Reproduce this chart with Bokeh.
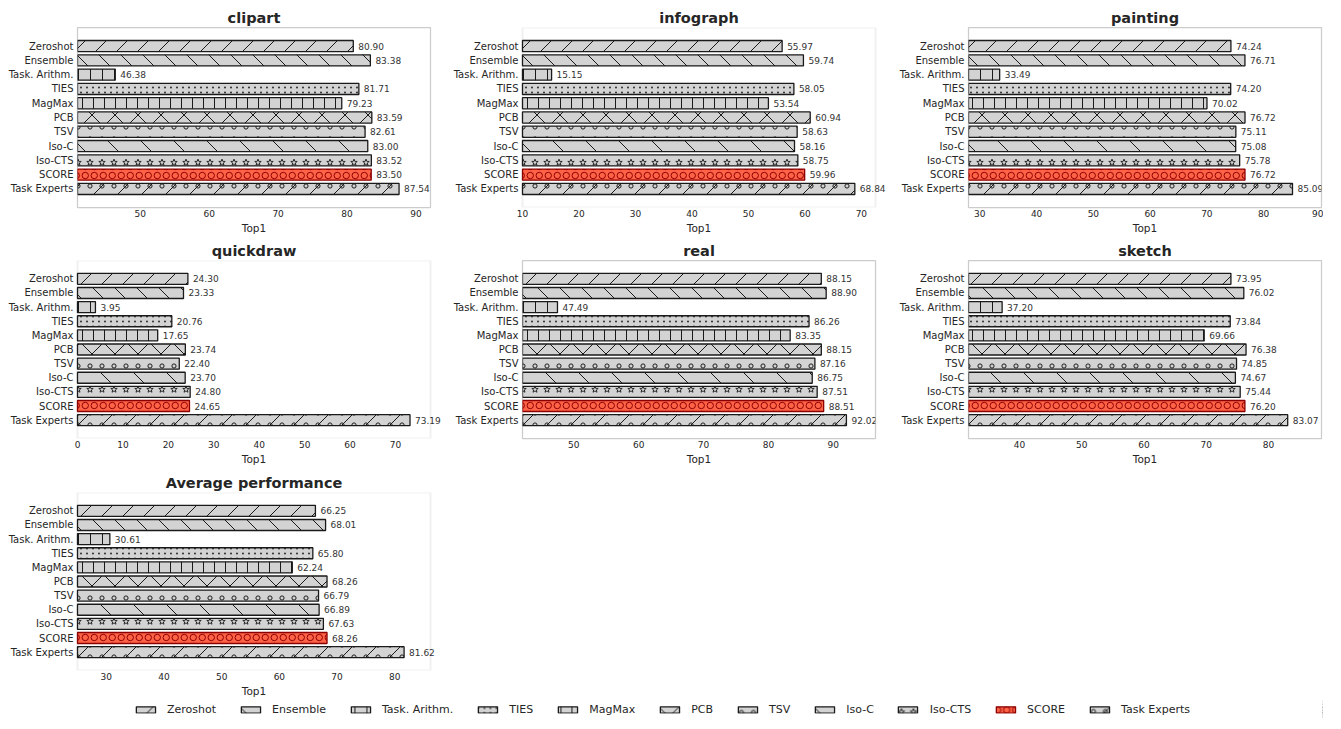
import base64
import math
from bokeh.plotting import figure
from bokeh.models import (ColumnDataSource, FactorRange, Range1d, FixedTicker, Legend,
                          LegendItem, Label, ImageURLTexture, BoxAnnotation)
from bokeh.layouts import column, row
from bokeh.embed import file_html
from bokeh.resources import INLINE

# ---------------- data ----------------
methods = ["Zeroshot", "Ensemble", "Task. Arithm.", "TIES", "MagMax", "PCB",
           "TSV", "Iso-C", "Iso-CTS", "SCORE", "Task Experts"]
clipart = [80.90, 83.38, 46.38, 81.71, 79.23, 83.59, 82.61, 83.00, 83.52, 83.50, 87.54]
infograph = [55.97, 59.74, 15.15, 58.05, 53.54, 60.94, 58.63, 58.16, 58.75, 59.96, 68.84]
painting = [74.24, 76.71, 33.49, 74.20, 70.02, 76.72, 75.11, 75.08, 75.78, 76.72, 85.09]
quickdraw = [24.30, 23.33, 3.95, 20.76, 17.65, 23.74, 22.40, 23.70, 24.80, 24.65, 73.19]
real = [88.15, 88.90, 47.49, 86.26, 83.35, 88.15, 87.16, 86.75, 87.51, 88.51, 92.02]
sketch = [73.95, 76.02, 37.20, 73.84, 69.66, 76.38, 74.85, 74.67, 75.44, 76.20, 83.07]
average = [66.25, 68.01, 30.61, 65.80, 62.24, 68.26, 66.79, 66.89, 67.63, 68.26, 81.62]

panel_titles = ["clipart", "infograph", "painting", "quickdraw", "real", "sketch", "Average performance"]
panel_values = [clipart, infograph, painting, quickdraw, real, sketch, average]
x_label = "Top1"
tick_values = [0, 10, 20, 30, 40, 50, 60, 70, 80, 90, 100]

# ---------------- styles ----------------
FONT = "DejaVu Sans"
TXT = "#262626"
GRAY = "#d3d3d3"
INK = "#1a1a1a"
RED_INK = "#8b0000"
x_ranges = [(40.9, 92.1), (10, 72.5), (28, 90.2), (0, 77.7), (42.1, 96.5), (31.8, 88.5), (25, 86.2)]


def tile(w, h, body):
    svg = (f'<svg xmlns="http://www.w3.org/2000/svg" width="{w}" height="{h}" '
           f'viewBox="0 0 {w} {h}">{body}</svg>')
    return "data:image/svg+xml;base64," + base64.b64encode(svg.encode()).decode()


def stroke(d, col=INK, sw=1.0):
    return f'<path d="{d}" stroke="{col}" stroke-width="{sw}" fill="none"/>'


def right_diag(n):
    return "".join(f"M{c + 1} -1 L{c - n - 1} {n + 1} " for c in (0, n, 2 * n))


def left_diag(n):
    return "".join(f"M-1 {c - 1} L{n + 1} {c + n + 1} " for c in (-n, 0, n))


def ring(cx, cy, r, col=INK, sw=1.0):
    return f'<circle cx="{cx}" cy="{cy}" r="{r}" stroke="{col}" stroke-width="{sw}" fill="none"/>'


def star(cx, cy, ro, ri):
    pts = []
    for k in range(10):
        a = -math.pi / 2 + k * math.pi / 5
        r = ro if k % 2 == 0 else ri
        pts.append(f"{cx + r * math.cos(a):.2f},{cy + r * math.sin(a):.2f}")
    return f'<polygon points="{" ".join(pts)}" stroke="{INK}" stroke-width="0.9" fill="none"/>'


textures = {
    "zs": tile(21, 21, stroke(right_diag(21))),
    "en": tile(22, 22, stroke(left_diag(22))),
    "ta": tile(12, 12, stroke("M6.5 0 L6.5 12")),
    "ti": tile(6, 5, f'<circle cx="3" cy="2.5" r="0.9" fill="{INK}"/>'),
    "mm": tile(11, 11, stroke("M5.5 0 L5.5 11")),
    "pc": tile(23, 23, stroke(right_diag(23) + left_diag(23))),
    "ts": tile(12, 12, ring(6, 7, 2.1)),
    "ic": tile(33, 33, stroke(left_diag(33))),
    "ct": tile(12, 12, star(6, 6.5, 3.4, 1.4)),
    "sc": tile(8.5, 9, ring(4.25, 4.5, 3.2, RED_INK)),
    "te": tile(24, 24, stroke("M25 -1 L-1 25 M1 -1 L-1 1 M49 -1 L23 25") +
               ring(6, 6, 2.1) + ring(18, 6, 2.1) + ring(6, 18, 2.1) + ring(18, 18, 2.1)),
}
hatch_keys = ["zs", "en", "ta", "ti", "mm", "pc", "ts", "ic", "ct", "sc", "te"]
hatch_extra = {k: ImageURLTexture(url=u) for k, u in textures.items()}
fills = [GRAY] * 9 + ["#ff6347", GRAY]
edges = [INK] * 9 + [RED_INK, INK]

FRAME_W, FRAME_H = 353, 180
factors_bottom_up = methods[::-1]


def draw_bars(p, vals, base):
    groups = []
    for i, m in enumerate(methods):
        src = ColumnDataSource(dict(y=[m], v=[vals[i]], pat=[hatch_keys[i]]))
        r = p.hbar(y="y", left=base, right="v", height=0.78, source=src,
                   fill_color=fills[i], line_color=edges[i], line_width=1.3,
                   hatch_pattern="pat", hatch_extra=hatch_extra)
        groups.append([r])
    return groups


def make_panel(k, left_b, right_b, top_b, bottom_b, ext_px):
    # ext_px > 0: invisible extra room left and right of the visible box so that
    # value labels next to the longest bar are not clipped by the frame
    x0, x1 = x_ranges[k]
    ppu = FRAME_W / (x1 - x0)
    ext = ext_px / ppu
    w = left_b + FRAME_W + right_b
    h = top_b + FRAME_H + bottom_b
    p = figure(width=w, height=h, y_range=FactorRange(factors=factors_bottom_up),
               x_range=Range1d(x0 - ext, x1 + ext), toolbar_location=None,
               output_backend="svg", min_border_left=left_b - ext_px,
               min_border_right=right_b - ext_px,
               min_border_top=top_b, min_border_bottom=bottom_b)
    p.y_range.range_padding = 0.8
    p.y_range.range_padding_units = "absolute"
    p.title.text = panel_titles[k]
    p.title.align = "center"
    p.title.text_font = FONT
    p.title.text_font_size = "14.5px"
    p.title.text_font_style = "bold"
    p.title.text_color = TXT
    p.title.standoff = 3
    if ext_px:
        p.outline_line_color = None
        p.add_layout(BoxAnnotation(left=x0, right=x1, fill_color=None, fill_alpha=0,
                                   line_color="#cccccc", line_width=2.0, level="underlay"))
    else:
        p.outline_line_color = "#cccccc"
        p.outline_line_width = 1.25
    p.xgrid.visible = False
    p.ygrid.visible = False
    p.xaxis.ticker = FixedTicker(ticks=[t for t in tick_values if x0 <= t <= x1])
    for ax in (p.xaxis[0], p.yaxis[0]):
        ax.axis_line_color = None
        ax.major_tick_line_color = None
        ax.minor_tick_line_color = None
        ax.major_tick_out = 0
        ax.major_tick_in = 0
        ax.minor_tick_out = 0
        ax.minor_tick_in = 0
        ax.major_label_text_font = FONT
        ax.major_label_text_color = TXT
    p.xaxis.major_label_text_font_size = "9px"
    p.xaxis.major_label_standoff = 2
    p.xaxis.axis_label = x_label
    p.xaxis.axis_label_text_font = FONT
    p.xaxis.axis_label_text_font_size = "10.5px"
    p.xaxis.axis_label_text_font_style = "normal"
    p.xaxis.axis_label_text_color = TXT
    p.xaxis.axis_label_standoff = 2
    p.yaxis.major_label_text_font_size = "10px"
    p.yaxis.major_label_standoff = 4 - ext_px
    vals = panel_values[k]
    draw_bars(p, vals, x0)
    for m, v in zip(methods, vals):
        # categorical synthetic coordinate of the factor's centre
        yc = factors_bottom_up.index(m) + 0.5
        p.add_layout(Label(x=v, y=yc, text=f"{v:.2f}", x_offset=5, level="overlay",
                           text_baseline="middle", text_align="left",
                           text_font=FONT, text_font_size="9px", text_color="#333333"))
    return p


p1 = make_panel(0, 77, 15, 27, 32, 0)
p2 = make_panel(1, 77, 15, 27, 32, 13)
p3 = make_panel(2, 78, 2, 27, 32, 0)
p4 = make_panel(3, 77, 15, 19, 33, 13)
p5 = make_panel(4, 77, 15, 19, 33, 0)
p6 = make_panel(5, 78, 2, 19, 33, 0)
p7 = make_panel(6, 77, 15, 19, 30, 13)

# legend strip
leg = figure(width=1323, height=18, x_range=Range1d(-2, -1), y_range=FactorRange(factors=methods),
             toolbar_location=None, output_backend="svg", min_border=0,
             x_axis_location=None, y_axis_location=None)
leg.outline_line_color = None
leg.xgrid.visible = False
leg.ygrid.visible = False
groups = draw_bars(leg, average, 0)
items = [LegendItem(label=m, renderers=groups[i]) for i, m in enumerate(methods)]
legend = Legend(items=items, orientation="horizontal", location="center",
                border_line_color=None, background_fill_alpha=0,
                label_text_font=FONT, label_text_font_size="11px", label_text_color=TXT,
                glyph_width=24, glyph_height=8, label_standoff=10, spacing=22,
                padding=0, margin=0, label_height=10)
leg.add_layout(legend, "center")

layout = column(row(p1, p2, p3), row(p4, p5, p6), row(p7), leg)

with open("out.html", "w") as f:
    f.write(file_html(layout, INLINE))
